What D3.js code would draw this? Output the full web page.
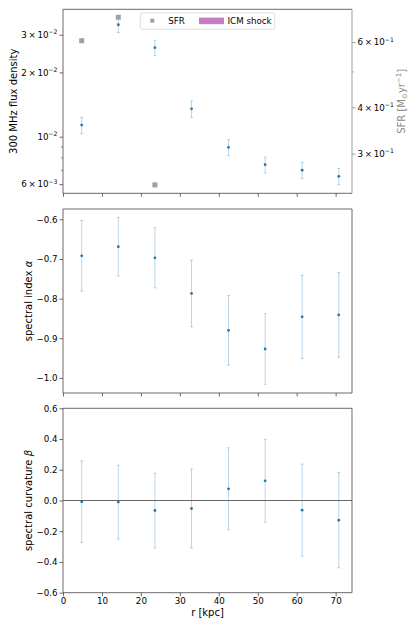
<!DOCTYPE html>
<html>
<head>
<meta charset="utf-8">
<script src="https://cdn.jsdelivr.net/npm/d3@7"></script>
<style>
  body { margin: 0; background: #fff; }
  text { font-family: "DejaVu Sans", sans-serif; }
</style>
</head>
<body>
<div id="chart"></div>
<script>
// radial bins (kpc)
const r = [4.8, 14.2, 23.6, 33.0, 42.5, 51.9, 61.4, 70.8];
const flux = [0.01134, 0.0334, 0.0261, 0.0135, 0.00892, 0.0074, 0.00697, 0.00653];
const fluxErr = [0.00098, 0.0027, 0.00215, 0.0012, 0.00077, 0.00063, 0.0006, 0.00057];
const sfrR = [4.8, 14.2, 23.6];
const sfr = [0.605, 0.700, 0.247];
const alpha = [-0.692, -0.669, -0.697, -0.787, -0.880, -0.927, -0.846, -0.841];
const alphaErr = [0.089, 0.074, 0.076, 0.084, 0.088, 0.089, 0.105, 0.107];
const beta = [-0.008, -0.010, -0.065, -0.052, 0.076, 0.128, -0.063, -0.128];
const betaErr = [0.265, 0.240, 0.243, 0.257, 0.267, 0.270, 0.300, 0.310];

const xTicks = [0, 10, 20, 30, 40, 50, 60, 70];
const fluxTicks = [0.006, 0.01, 0.02, 0.03];
const fluxMinor = [0.007, 0.008, 0.009];
const sfrTicks = [0.3, 0.4, 0.6];
const sfrMinor = [0.5];
const alphaTicks = [-1.0, -0.9, -0.8, -0.7, -0.6];
const betaTicks = [-0.6, -0.4, -0.2, 0.0, 0.2, 0.4, 0.6];

const W = 419, H = 628;
const left = 63, right = 352;
const panels = [[9.3, 193.3], [209, 393], [408.3, 592.7]];
const blue = '#1f77b4', errCol = 'rgba(31,119,180,0.3)', spine = '#444';
const fs = 8.7, lfs = 10;

const svg = d3.select('#chart').append('svg')
  .attr('width', W).attr('height', H);

const x = d3.scaleLinear().domain([0, 74.2]).range([left, right]);

function frame(p, rightCol) {
  const [t, b] = panels[p];
  const g = svg.append('g');
  g.append('line').attr('x1', left).attr('x2', right).attr('y1', t).attr('y2', t).attr('stroke', spine).attr('stroke-width', 0.8);
  g.append('line').attr('x1', left).attr('x2', right).attr('y1', b).attr('y2', b).attr('stroke', spine).attr('stroke-width', 0.8);
  g.append('line').attr('x1', left).attr('x2', left).attr('y1', t).attr('y2', b).attr('stroke', spine).attr('stroke-width', 0.8);
  g.append('line').attr('x1', right).attr('x2', right).attr('y1', t).attr('y2', b).attr('stroke', rightCol || spine).attr('stroke-width', 0.8);
  // x ticks
  const xa = d3.axisBottom(x).tickValues(xTicks).tickSize(3.5).tickPadding(2)
    .tickFormat(p === 2 ? d3.format('d') : () => '');
  const ag = svg.append('g').attr('transform', `translate(0,${b})`).call(xa);
  ag.select('.domain').remove();
  ag.selectAll('line').attr('stroke', spine).attr('stroke-width', 0.8);
  ag.selectAll('text').attr('font-size', fs).attr('fill', '#000').style('font-family', 'DejaVu Sans');
  return g;
}

function sci(sel, v) {
  // label like 3 x 10^-2
  const e = Math.floor(Math.log10(v) + 1e-9);
  const m = Math.round(v / Math.pow(10, e));
  sel.text('');
  if (m !== 1) sel.append('tspan').text(m + '\u2009\u00d7\u200910');
  else sel.append('tspan').text('10');
  sel.append('tspan').attr('dy', -3.7).attr('font-size', fs * 0.7).text('\u2212' + Math.abs(e));
}

function errorbars(g, xs, ys, es, y) {
  const pts = g.selectAll(null).data(xs.map((d, i) => ({ x: d, y: ys[i], e: es[i] }))).enter().append('g');
  pts.append('line').attr('x1', d => x(d.x)).attr('x2', d => x(d.x))
    .attr('y1', d => y(d.y - d.e)).attr('y2', d => y(d.y + d.e))
    .attr('stroke', errCol).attr('stroke-width', 1);
  [-1, 1].forEach(s => {
    pts.append('line').attr('x1', d => x(d.x) - 1.5).attr('x2', d => x(d.x) + 1.5)
      .attr('y1', d => y(d.y + s * d.e)).attr('y2', d => y(d.y + s * d.e))
      .attr('stroke', errCol).attr('stroke-width', 1);
  });
  pts.append('circle').attr('cx', d => x(d.x)).attr('cy', d => y(d.y)).attr('r', 1.4).attr('fill', blue);
}

function yLabel(cx, cy, col) {
  return svg.append('text').attr('transform', `translate(${cx},${cy}) rotate(-90)`)
    .attr('text-anchor', 'middle').attr('font-size', lfs).attr('fill', col || '#000');
}

// ---- panel 1: flux density + SFR
{
  const [t, b] = panels[0];
  const g = frame(0, '#888');
  const y = d3.scaleLog().domain([0.005436, 0.03945]).range([b, t]);
  const ySfr = d3.scaleLog().domain([0.2344, 0.7355]).range([b, t]);

  const ya = svg.append('g').attr('transform', `translate(${left},0)`)
    .call(d3.axisLeft(y).tickValues(fluxTicks).tickSize(3.5).tickPadding(2));
  ya.select('.domain').remove();
  ya.selectAll('line').attr('stroke', spine).attr('stroke-width', 0.8);
  ya.selectAll('text').attr('font-size', fs).attr('fill', '#000').each(function (d) { sci(d3.select(this), d); });
  const ym = svg.append('g').attr('transform', `translate(${left},0)`)
    .call(d3.axisLeft(y).tickValues(fluxMinor).tickSize(2).tickFormat(() => ''));
  ym.select('.domain').remove();
  ym.selectAll('line').attr('stroke', spine).attr('stroke-width', 0.6);

  const yr = svg.append('g').attr('transform', `translate(${right},0)`)
    .call(d3.axisRight(ySfr).tickValues(sfrTicks).tickSize(3.5).tickPadding(2));
  yr.select('.domain').remove();
  yr.selectAll('line').attr('stroke', '#888').attr('stroke-width', 0.8);
  yr.selectAll('text').attr('font-size', fs).attr('fill', '#000').each(function (d) { sci(d3.select(this), d); });
  const yrm = svg.append('g').attr('transform', `translate(${right},0)`)
    .call(d3.axisRight(ySfr).tickValues(sfrMinor).tickSize(2).tickFormat(() => ''));
  yrm.select('.domain').remove();
  yrm.selectAll('line').attr('stroke', '#888').attr('stroke-width', 0.6);

  errorbars(g, r, flux, fluxErr, y);

  g.selectAll(null).data(sfrR).enter().append('rect')
    .attr('x', (d) => x(d) - 2.5).attr('y', (d, i) => ySfr(sfr[i]) - 2.5)
    .attr('width', 5).attr('height', 5).attr('fill', '#a0a0a0');

  // legend
  const lg = svg.append('g');
  lg.append('rect').attr('x', 140.3).attr('y', 12.8).attr('width', 134.4).attr('height', 16.4)
    .attr('rx', 2).attr('fill', 'rgba(255,255,255,0.8)').attr('stroke', '#d6d6d6').attr('stroke-width', 0.8);
  lg.append('rect').attr('x', 150.3).attr('y', 18.7).attr('width', 4).attr('height', 4).attr('fill', '#a0a0a0');
  lg.append('text').attr('x', 168.3).attr('y', 24.2).attr('font-size', fs).text('SFR');
  lg.append('rect').attr('x', 199).attr('y', 17.6).attr('width', 25).attr('height', 6.6).attr('fill', '#c27fc3');
  lg.append('text').attr('x', 227.5).attr('y', 24.2).attr('font-size', fs).text('ICM shock');

  yLabel(17, (t + b) / 2).text('300 MHz flux density');
  const sl = yLabel(405, (t + b) / 2, '#888');
  sl.append('tspan').text('SFR [M');
  sl.append('tspan').attr('dy', 1.8).attr('font-size', lfs * 0.7).text('\u2299');
  sl.append('tspan').attr('dy', -1.8).text('yr');
  sl.append('tspan').attr('dy', -4).attr('font-size', lfs * 0.7).text('\u22121');
  sl.append('tspan').attr('dy', 4).text(']');
}

// ---- panel 2: spectral index
{
  const [t, b] = panels[1];
  const g = frame(1);
  const y = d3.scaleLinear().domain([-1.038, -0.574]).range([b, t]);
  const ya = svg.append('g').attr('transform', `translate(${left},0)`)
    .call(d3.axisLeft(y).tickValues(alphaTicks).tickSize(3.5).tickPadding(2)
      .tickFormat(d => d3.format('.1f')(d).replace('-', '\u2212')));
  ya.select('.domain').remove();
  ya.selectAll('line').attr('stroke', spine).attr('stroke-width', 0.8);
  ya.selectAll('text').attr('font-size', fs).attr('fill', '#000');
  errorbars(g, r, alpha, alphaErr, y);
  const lab = yLabel(32, (t + b) / 2);
  lab.append('tspan').text('spectral index ');
  lab.append('tspan').attr('font-style', 'italic').text('\u03b1');
}

// ---- panel 3: spectral curvature
{
  const [t, b] = panels[2];
  const g = frame(2);
  const y = d3.scaleLinear().domain([-0.6, 0.6]).range([b, t]);
  const ya = svg.append('g').attr('transform', `translate(${left},0)`)
    .call(d3.axisLeft(y).tickValues(betaTicks).tickSize(3.5).tickPadding(2)
      .tickFormat(d => d3.format('.1f')(d).replace('-', '\u2212')));
  ya.select('.domain').remove();
  ya.selectAll('line').attr('stroke', spine).attr('stroke-width', 0.8);
  ya.selectAll('text').attr('font-size', fs).attr('fill', '#000');
  g.append('line').attr('x1', left).attr('x2', right).attr('y1', y(0)).attr('y2', y(0))
    .attr('stroke', '#555').attr('stroke-width', 0.9);
  errorbars(g, r, beta, betaErr, y);
  const lab = yLabel(32, (t + b) / 2);
  lab.append('tspan').text('spectral curvature ');
  lab.append('tspan').attr('font-style', 'italic').text('\u03b2');

  svg.append('text').attr('x', (left + right) / 2).attr('y', 616)
    .attr('text-anchor', 'middle').attr('font-size', lfs).text('r [kpc]');
}
</script>
</body>
</html>
